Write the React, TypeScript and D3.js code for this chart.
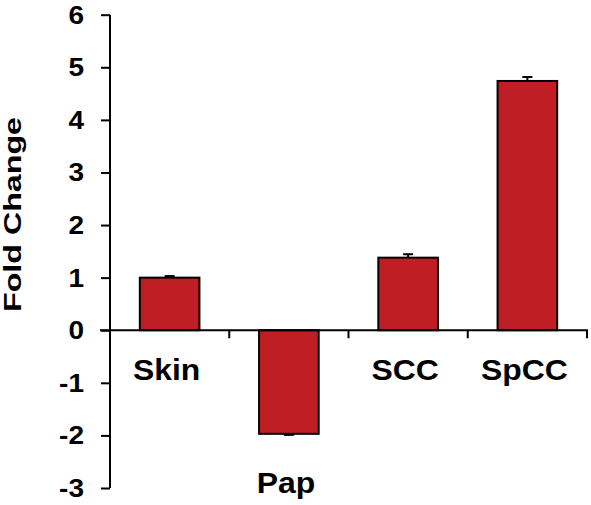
import React, { useRef, useEffect } from "react";
import * as d3 from "d3";

const categories = ["Skin", "Pap", "SCC", "SpCC"];
const foldChange = [1.0, -1.97, 1.38, 4.74];
const errors = [0.03, 0.02, 0.065, 0.075];
const yTicks = [-3, -2, -1, 0, 1, 2, 3, 4, 5, 6];

const W = 591;
const H = 505;
const FONT = "Arial, 'Liberation Sans', sans-serif";

const App = () => {
  const ref = useRef<SVGSVGElement>(null);

  useEffect(() => {
    const svg = d3.select(ref.current);
    svg.selectAll("*").remove();

    const y = d3.scaleLinear().domain([-3, 6]).range([488, 14.7]);
    const x = d3
      .scaleBand()
      .domain(categories)
      .range([110, 587])
      .paddingInner(0.5)
      .paddingOuter(0.25);

    const data = categories.map((c, i) => ({ c, v: foldChange[i], e: errors[i] }));

    // bars
    svg
      .selectAll("rect.bar")
      .data(data)
      .enter()
      .append("rect")
      .attr("class", "bar")
      .attr("x", (d) => x(d.c)!)
      .attr("width", x.bandwidth())
      .attr("y", (d) => y(Math.max(0, d.v)))
      .attr("height", (d) => Math.abs(y(d.v) - y(0)))
      .attr("fill", "#BE1E24")
      .attr("stroke", "#000")
      .attr("stroke-width", 2);

    // error bars
    const eb = svg.selectAll("g.err").data(data).enter().append("g");
    eb.append("line")
      .attr("x1", (d) => x(d.c)! + x.bandwidth() / 2)
      .attr("x2", (d) => x(d.c)! + x.bandwidth() / 2)
      .attr("y1", (d) => y(d.v))
      .attr("y2", (d) => y(d.v + Math.sign(d.v) * d.e))
      .attr("stroke", "#000")
      .attr("stroke-width", 2);
    eb.append("line")
      .attr("x1", (d) => x(d.c)! + x.bandwidth() / 2 - 5)
      .attr("x2", (d) => x(d.c)! + x.bandwidth() / 2 + 5)
      .attr("y1", (d) => y(d.v + Math.sign(d.v) * d.e))
      .attr("y2", (d) => y(d.v + Math.sign(d.v) * d.e))
      .attr("stroke", "#000")
      .attr("stroke-width", 2);

    // y axis
    const yAxis = svg
      .append("g")
      .attr("transform", "translate(110,0)")
      .call(d3.axisLeft(y).tickValues(yTicks).tickSize(9).tickFormat(() => ""));
    yAxis.select(".domain").attr("stroke", "#000").attr("stroke-width", 2).attr("d", `M0,${y(6)}V${y(-3)}`);
    yAxis.selectAll(".tick line").attr("stroke", "#000").attr("stroke-width", 2);

    svg
      .selectAll("text.ytick")
      .data(yTicks)
      .enter()
      .append("text")
      .attr("transform", (d) => `translate(84,${y(d)}) scale(1.12,1)`)
      .attr("dy", "0.36em")
      .attr("text-anchor", "end")
      .attr("font-family", FONT)
      .attr("font-weight", "bold")
      .attr("font-size", 25)
      .text((d) => String(d));

    // x axis at zero
    const bounds = categories.map((c) => x(c)! - (x.step() * x.paddingInner()) / 2 + x.step());
    svg
      .append("line")
      .attr("x1", 100)
      .attr("x2", 588)
      .attr("y1", y(0))
      .attr("y2", y(0))
      .attr("stroke", "#000")
      .attr("stroke-width", 2);
    svg
      .selectAll("line.xtick")
      .data(bounds)
      .enter()
      .append("line")
      .attr("x1", (d) => d)
      .attr("x2", (d) => d)
      .attr("y1", y(0))
      .attr("y2", y(0) + 8)
      .attr("stroke", "#000")
      .attr("stroke-width", 2);

    // category labels
    svg
      .selectAll("text.cat")
      .data(data)
      .enter()
      .append("text")
      .attr(
        "transform",
        (d) => `translate(${x(d.c)! + x.bandwidth() / 2 - 3},${d.v < 0 ? 493 : 380}) scale(1.1,1)`
      )
      .attr("text-anchor", "middle")
      .attr("font-family", FONT)
      .attr("font-weight", "bold")
      .attr("font-size", 29)
      .text((d) => d.c);

    // y title
    svg
      .append("text")
      .attr("transform", "translate(21,214.5) rotate(-90)")
      .attr("text-anchor", "middle")
      .attr("font-family", FONT)
      .attr("font-weight", "bold")
      .attr("font-size", 24)
      .attr("textLength", 195)
      .attr("lengthAdjust", "spacingAndGlyphs")
      .text("Fold Change");
  }, []);

  return (
    <svg
      ref={ref}
      width={W}
      height={H}
      style={{ position: "absolute", left: 0, top: 0, background: "#fff" }}
    />
  );
};

export default App;
